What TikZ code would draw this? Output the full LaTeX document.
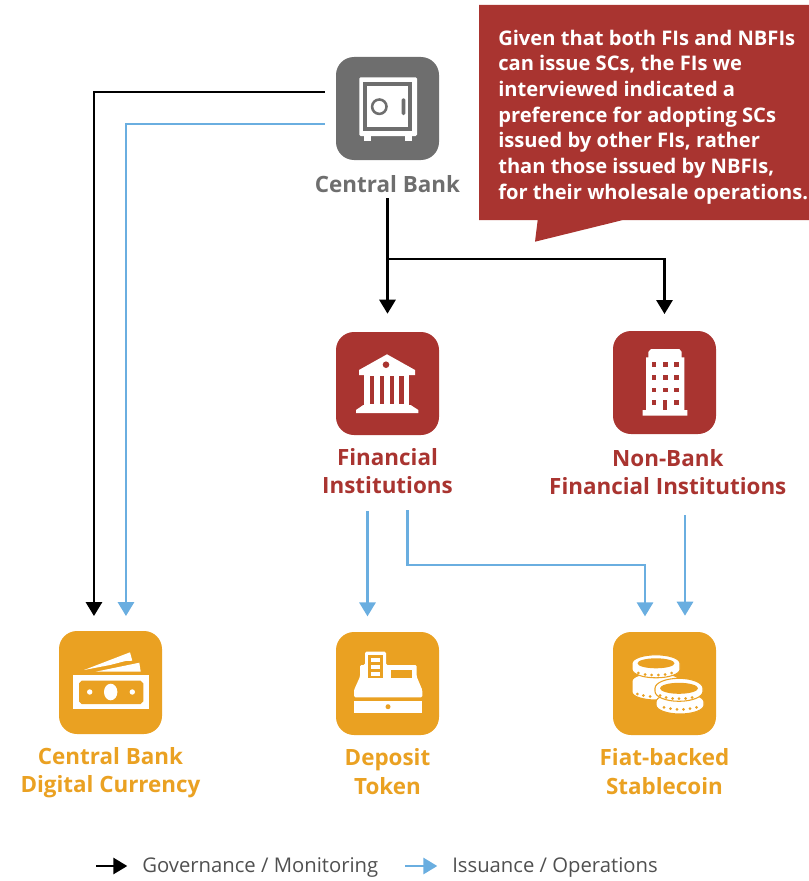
\documentclass[tikz,border=0pt]{standalone}
\usepackage{fontspec}
\setmainfont{Open Sans}
\usetikzlibrary{positioning,arrows.meta}
\definecolor{bankgray}{HTML}{6E6E6E}
\definecolor{firered}{HTML}{A93430}
\definecolor{tokenorange}{HTML}{EAA122}
\definecolor{issueblue}{HTML}{6AAEE0}
\definecolor{legendgray}{HTML}{505050}
\tikzset{
  iconbox/.style={draw=none,rounded corners=13.5pt,minimum size=77.25pt,inner sep=0pt},
  boxlabel/.style={font=\bfseries\fontsize{16.8}{21.4}\selectfont,align=center,inner sep=0pt},
  govline/.style={black,line width=2.1pt,-{Triangle[length=10.5pt,width=12pt]}},
  issueline/.style={issueblue,line width=2.2pt,-{Triangle[length=10.5pt,width=12pt]}},
  legendtext/.style={font=\fontsize{15.2}{18}\selectfont,text=legendgray,inner sep=0pt,anchor=west},
}
% centre x, centre y of the top face, height of the rim, half height of the face
\newcommand{\coinbody}[4]{
  \draw[tokenorange,line width=0.8pt,fill=white] (#1-24,#2) -- (#1-24,#2+#3) arc[x radius=24,y radius=#4,start angle=180,end angle=0] -- (#1+24,#2) arc[x radius=24,y radius=#4,start angle=0,end angle=-180] -- cycle;
}
\begin{document}
\begin{tikzpicture}[x=0.75pt,y=-0.75pt]
\useasboundingbox (0,0) rectangle (809,881);

% boxes
\node[iconbox,fill=bankgray] (boxbank) at (387.5,108.5) {};
\node[iconbox,fill=firered] (boxfi) at (387.5,383.5) {};
\node[iconbox,fill=firered] (boxnbfi) at (664.5,382.5) {};
\node[iconbox,fill=tokenorange] (boxcbdc) at (110.5,682.5) {};
\node[iconbox,fill=tokenorange] (boxtoken) at (387.5,683.5) {};
\node[iconbox,fill=tokenorange] (boxcoin) at (664.5,683.5) {};

% labels
\node[boxlabel,text=bankgray,below=11pt of boxbank] (lblbank) {Central Bank};
\node[boxlabel,text=firered,below=9.5pt of boxfi] (lblfi) {Financial\\Institutions};
\node[boxlabel,text=firered,below=11pt of boxnbfi,xshift=2.5pt] (lblnbfi) {Non-Bank\\Financial Institutions};
\node[boxlabel,text=tokenorange,below=9.5pt of boxcbdc] (lblcbdc) {Central Bank\\Digital Currency};
\node[boxlabel,text=tokenorange,below=10pt of boxtoken] (lbltoken) {Deposit\\Token};
\node[boxlabel,text=tokenorange,below=10pt of boxcoin] (lblcoin) {Fiat-backed\\Stablecoin};

% safe
\fill[white,rounded corners=1pt] (359.3,77.3) rectangle (417,136);
\fill[white] (364,136) rectangle (371.3,141);
\fill[white] (405,136) rectangle (412,141);
\fill[bankgray] (363.3,82.3) rectangle (412.3,130.7);
\fill[white] (367.3,86.3) rectangle (408.3,127.3);
\draw[bankgray,line width=1.9pt] (379.3,106.7) circle (7.2);
\fill[bankgray,rounded corners=1pt] (401.7,98.3) rectangle (405.3,115);

% bank
\fill[white] (387,354.3) -- (415,370) -- (415,375) -- (359,375) -- (359,370) -- cycle;
\fill[white] (364.3,375) rectangle (409.3,405);
\fill[firered] (370,376) rectangle (374.3,404.3);
\fill[firered] (379.7,376) rectangle (384,404.3);
\fill[firered] (389.7,376) rectangle (394,404.3);
\fill[firered] (399.3,376) rectangle (403.7,404.3);
\fill[white] (363.3,405) -- (410.7,405) -- (418.3,410) -- (418.3,413) -- (356,413) -- (356,410) -- cycle;
\fill[firered] (386,364.7) circle (3.3);

% building
\fill[white] (651,349) -- (679.3,349) -- (681.7,352) -- (681.7,357.3) -- (684.3,357.3) -- (684.3,410) -- (687.3,410) -- (687.3,415.7) -- (642.7,415.7) -- (642.7,410) -- (646,410) -- (646,357.3) -- (648.3,357.3) -- (648.3,352) -- cycle;
\fill[firered] (651.7,362.4) rectangle +(4.7,4.7);
\fill[firered] (663,362.4) rectangle +(4.7,4.7);
\fill[firered] (674,362.4) rectangle +(4.7,4.7);
\fill[firered] (651.7,375) rectangle +(4.7,4.7);
\fill[firered] (663,375) rectangle +(4.7,4.7);
\fill[firered] (674,375) rectangle +(4.7,4.7);
\fill[firered] (651.7,387.7) rectangle +(4.7,4.7);
\fill[firered] (663,387.7) rectangle +(4.7,4.7);
\fill[firered] (674,387.7) rectangle +(4.7,4.7);
\fill[firered] (651.7,400.4) rectangle +(4.7,4.7);
\fill[firered] (674,400.4) rectangle +(4.7,4.7);
\fill[firered] (663.3,400) rectangle (667.3,410);

% banknotes
\fill[white] (84,670) -- (130,652.3) -- (132.3,660.7) -- (125.5,661) -- (110,665) -- cycle;
\fill[white] (95.7,671.7) -- (139.3,662.7) -- (140.7,671.7) -- cycle;
\fill[white] (73.3,675) rectangle (149,709.3);
\fill[tokenorange] (81.7,680.7) -- (140.7,680.7) -- (143.3,683.4) -- (143.3,701.3) -- (140.7,704) -- (81.7,704) -- (79,701.3) -- (79,683.4) -- cycle;
\fill[white] (110.7,692) ellipse (6.7 and 8.3);
\fill[white] (89.7,692) circle (2.7);
\fill[white] (132.3,692) circle (2.7);

% cash register
\fill[white] (354,701) rectangle (422.3,712.7);
\fill[tokenorange] (388,706.7) circle (2.5);
\fill[white,rounded corners=1pt] (354,697.3) -- (354,690) -- (360,676.7) -- (360,665) -- (365,665) -- (365,651.7) -- (386,651.7) -- (386,665) -- (416.7,665) -- (416.7,676.7) -- (422.3,690) -- (422.3,697.3) -- cycle;
\fill[tokenorange] (368.3,655) rectangle (383.3,678.3);
\fill[white] (371,658.3) rectangle (380,661.7);
\fill[white] (371,665) rectangle (380,669);
\fill[white] (371,672.3) rectangle (380,675.7);
\fill[tokenorange] (390.7,670) rectangle (412.3,678.3);

% coins
\coinbody{656}{681}{11}{8}
\coinbody{656}{663.3}{6}{8.5}
\fill[tokenorange] (656,663.3) ellipse (18.5 and 5);
\fill[tokenorange] (638.3,673) circle (1.5);
\fill[tokenorange] (645,674.5) circle (1.5);
\fill[tokenorange] (651.7,675) circle (1.5);
\fill[tokenorange] (658.3,675) circle (1.5);
\fill[tokenorange] (665,674.5) circle (1.5);
\fill[tokenorange] (671.7,673) circle (1.5);
\fill[tokenorange] (637.3,694) circle (1.5);
\fill[tokenorange] (643.3,695.5) circle (1.5);
\fill[tokenorange] (650,696.5) circle (1.5);
\coinbody{680}{702}{3}{9}
\coinbody{679}{688.3}{3}{10}
\fill[tokenorange] (679,688.3) ellipse (19 and 5.5);
\fill[tokenorange] (660,695.5) circle (1.5);
\fill[tokenorange] (666,697.5) circle (1.5);
\fill[tokenorange] (672.5,698.5) circle (1.5);
\fill[tokenorange] (679,698.7) circle (1.5);
\fill[tokenorange] (685.5,698.5) circle (1.5);
\fill[tokenorange] (692,697.5) circle (1.5);
\fill[tokenorange] (664,707.3) circle (1.5);
\fill[tokenorange] (670.5,708.7) circle (1.5);
\fill[tokenorange] (677,709.3) circle (1.5);
\fill[tokenorange] (683.5,709.3) circle (1.5);
\fill[tokenorange] (690,708.7) circle (1.5);
\fill[tokenorange] (696.5,707.3) circle (1.5);

% callout
\fill[firered] (479,5) -- (809,5) -- (809,220) -- (623,220) -- (535,241.7) -- (537.7,220) -- (479,220) -- cycle;
\node[anchor=north west,inner sep=0pt,text=white,align=left,font=\bfseries\fontsize{15.1}{19.3}\selectfont] (notetext) at (498,29.5) {Given that both FIs and NBFIs\\can issue SCs, the FIs we\\interviewed indicated a\\preference for adopting SCs\\issued by other FIs, rather\\than those issued by NBFIs,\\for their wholesale operations.};

% connectors
\draw[govline,shorten <=8.25pt,shorten >=11pt] ([yshift=12.4pt]boxbank.west) -| ([xshift=-12.4pt]boxcbdc.north);
\draw[issueline,shorten <=8.25pt,shorten >=11pt] ([yshift=-11.6pt]boxbank.west) -| ([xshift=11.6pt]boxcbdc.north);
\coordinate (branch) at (387.5,259);
\draw[govline,shorten >=13.5pt,shorten <=4pt] (lblbank) -- (boxfi);
\draw[govline,shorten >=12.5pt] (branch) -| (boxnbfi);
\draw[issueline,shorten <=12.75pt,shorten >=11.5pt] (lblfi.south -| 367.5,0) -- (boxtoken.north -| 367.5,0);
\draw[issueline,shorten <=12pt,shorten >=11.5pt] (lblfi.south -| 407.5,0) |- (645,565) -- (boxcoin.north -| 645,0);
\draw[issueline,shorten >=12pt] (685,515) -- (boxcoin.north -| 685,0);

% legend
\node[legendtext] (legendgov) at (142,867) {Governance / Monitoring};
\node[legendtext] (legendissue) at (452,867) {Issuance / Operations};
\coordinate (legendgovstart) at (96,866);
\coordinate (legendissuestart) at (405,866);
\draw[govline,shorten >=11pt] (legendgovstart) -- (legendgov.west |- legendgovstart);
\draw[issueline,shorten >=11pt] (legendissuestart) -- (legendissue.west |- legendissuestart);
\end{tikzpicture}
\end{document}
